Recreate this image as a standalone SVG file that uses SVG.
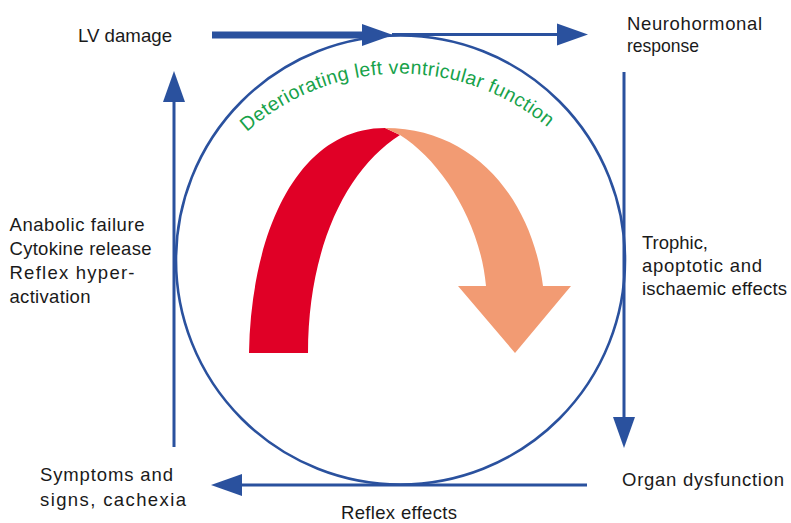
<svg xmlns="http://www.w3.org/2000/svg" width="791" height="523" viewBox="0 0 791 523">
  <style>
    .lbl { font-family: "Liberation Sans", Arial, sans-serif; font-size: 18.5px; fill: #1a1a1a; }
    .flow { stroke: #2a519e; stroke-width: 3; fill: none; }
    .arc-title { font-family: "Liberation Sans", Arial, sans-serif; font-size: 19.5px; fill: #17a24a; letter-spacing: 0.4px; }
  </style>
  <defs>
    <marker id="head" markerUnits="userSpaceOnUse" markerWidth="32" markerHeight="23" refX="0" refY="11" orient="auto" overflow="visible">
      <path d="M0,0 L31,11 L0,22 Z" fill="#2a519e"/>
    </marker>
    <path id="titleArc" d="M 247,132 A 230 230 0 0 1 552,131"/>
  </defs>

  <rect width="791" height="523" fill="#ffffff"/>

  <!-- central cycle ring -->
  <g id="cycle">
    <circle cx="400.5" cy="260" r="224.5" fill="none" stroke="#2a519e" stroke-width="2.6"/>
    <text class="arc-title"><textPath href="#titleArc">Deteriorating left ventricular function</textPath></text>
  </g>

  <!-- curved arrow: red rising limb, salmon falling limb -->
  <g id="decline">
    <path d="M249,353 C251,232 298,128 385,128 L400,135 C345,170 308,250 308,353 Z" fill="#e00026"/>
    <path d="M385,128 C475,128 532,200 543,286 L571,286 L515,353 L458,286 L486,286 C480,220 440,160 400,135 Z" fill="#f29b73"/>
  </g>

  <!-- connectors -->
  <g id="connectors">
    <line x1="212" y1="35" x2="362" y2="35" stroke="#2a519e" stroke-width="7" marker-end="url(#head)"/>
    <line class="flow" x1="392" y1="34.5" x2="557" y2="34.5" marker-end="url(#head)"/>
    <line class="flow" x1="624" y1="72" x2="624" y2="417" marker-end="url(#head)"/>
    <line class="flow" x1="587" y1="485" x2="242" y2="485" marker-end="url(#head)"/>
    <line class="flow" x1="174" y1="447" x2="174" y2="102" marker-end="url(#head)"/>
  </g>

  <g id="lv-damage">
    <text class="lbl" x="78" y="42" textLength="94" lengthAdjust="spacingAndGlyphs">LV damage</text>
  </g>
  <g id="neurohormonal">
    <text class="lbl" x="627" y="30" textLength="135" lengthAdjust="spacing">Neurohormonal</text>
    <text class="lbl" x="627" y="52" textLength="72" lengthAdjust="spacingAndGlyphs">response</text>
  </g>
  <g id="trophic">
    <text class="lbl" x="642" y="249" textLength="66" lengthAdjust="spacingAndGlyphs">Trophic,</text>
    <text class="lbl" x="642" y="272" textLength="120" lengthAdjust="spacing">apoptotic and</text>
    <text class="lbl" x="642" y="295" textLength="145" lengthAdjust="spacing">ischaemic effects</text>
  </g>
  <g id="organ-dysfunction">
    <text class="lbl" x="622" y="486" textLength="162" lengthAdjust="spacing">Organ dysfunction</text>
  </g>
  <g id="reflex-effects">
    <text class="lbl" x="341" y="518.5" textLength="116" lengthAdjust="spacing">Reflex effects</text>
  </g>
  <g id="symptoms">
    <text class="lbl" x="40" y="481" textLength="133" lengthAdjust="spacing">Symptoms and</text>
    <text class="lbl" x="40" y="506" textLength="146" lengthAdjust="spacing">signs, cachexia</text>
  </g>
  <g id="anabolic">
    <text class="lbl" x="9.5" y="231" textLength="135" lengthAdjust="spacing">Anabolic failure</text>
    <text class="lbl" x="9.5" y="255" textLength="142" lengthAdjust="spacing">Cytokine release</text>
    <text class="lbl" x="9.5" y="279" textLength="125" lengthAdjust="spacing">Reflex hyper-</text>
    <text class="lbl" x="9.5" y="303" textLength="81" lengthAdjust="spacing">activation</text>
  </g>
</svg>
